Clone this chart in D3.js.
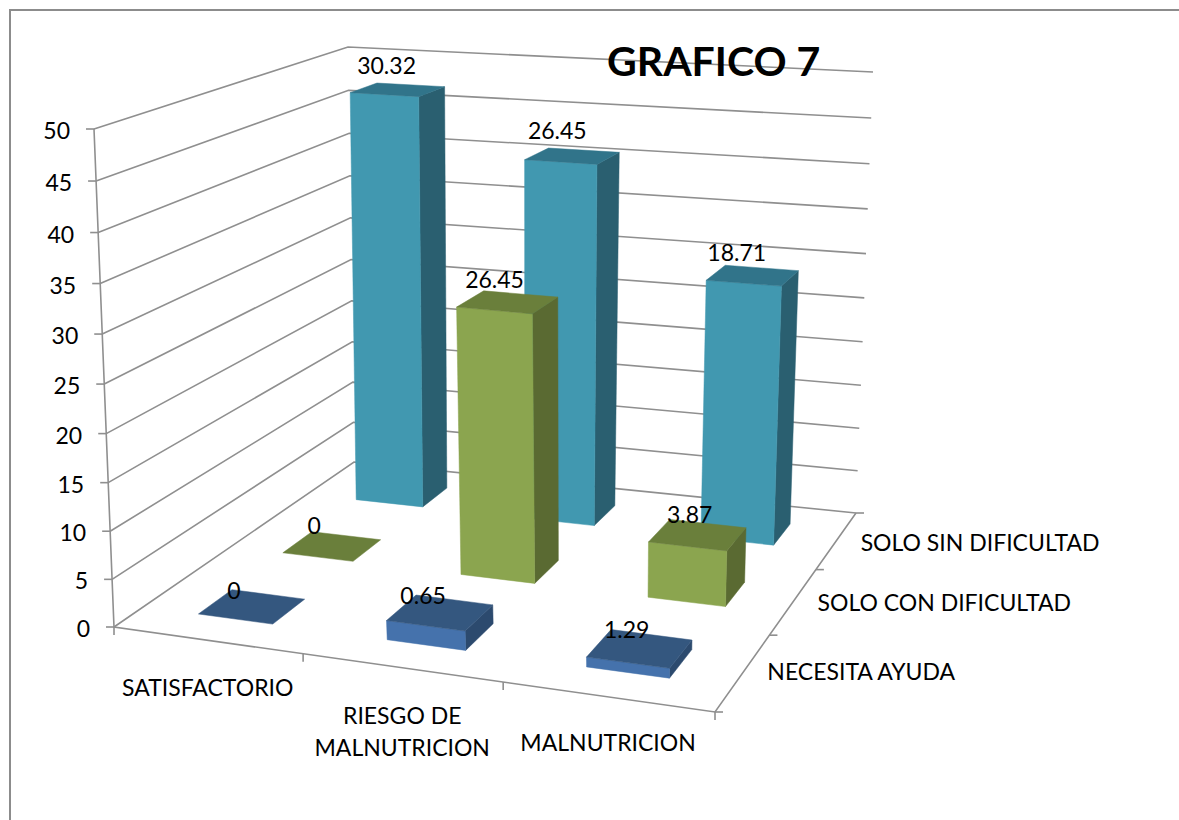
<!DOCTYPE html>
<html>
<head>
<meta charset="utf-8">
<script src="https://cdn.jsdelivr.net/npm/d3@7"></script>
<style>
  html, body { margin: 0; padding: 0; background: #fff; }
  svg { display: block; }
  text { font-family: Lato, "Open Sans", sans-serif; fill: #000; }
</style>
</head>
<body>
<script>
// data
const categories = ["SATISFACTORIO", "RIESGO DE|MALNUTRICION", "MALNUTRICION"]
const seriesNames = ["NECESITA AYUDA", "SOLO CON DIFICULTAD", "SOLO SIN DIFICULTAD"]
const yTicks = [0, 5, 10, 15, 20, 25, 30, 35, 40, 45, 50]

// bar heights as measured against the axis (the printed labels differ from them)
const necesitaHeights = [0, 2, 1]
const conDificultadHeights = [0, 29, 6]
const sinDificultadHeights = [47, 40.8, 29]

const necesitaLabels = ["0", "0.65", "1.29"]
const conDificultadLabels = ["0", "26.45", "3.87"]
const sinDificultadLabels = ["30.32", "26.45", "18.71"]

const width = 1179, height = 820

// corners of the 3d box on screen: front left, front right, back right, back left
const floorQuad = [[114, 627], [715, 712], [856, 513], [354, 462]]
const topQuad = [[94, 129], [728, 183], [873, 72], [348, 47]]

function quadMap(q) {
  const [[x0, y0], [x1, y1], [x2, y2], [x3, y3]] = q
  const dx1 = x1 - x2, dx2 = x3 - x2, sx = x0 - x1 + x2 - x3
  const dy1 = y1 - y2, dy2 = y3 - y2, sy = y0 - y1 + y2 - y3
  const den = dx1 * dy2 - dx2 * dy1
  const g = (sx * dy2 - dx2 * sy) / den
  const h = (dx1 * sy - sx * dy1) / den
  return (u, v) => {
    const w = g * u + h * v + 1
    return [
      ((x1 - x0 + g * x1) * u + (x3 - x0 + h * x3) * v + x0) / w,
      ((y1 - y0 + g * y1) * u + (y3 - y0 + h * y3) * v + y0) / w
    ]
  }
}
const floorAt = quadMap(floorQuad)
const topAt = quadMap(topQuad)

// scales
const x = d3.scaleBand().domain(categories).range([0, 1]).paddingInner(0.6).paddingOuter(0.3)
const z = d3.scaleBand().domain(seriesNames).range([0, 1]).paddingInner(0.62).paddingOuter(0.31)
const y = d3.scaleLinear().domain([0, 50]).range([0, 1])

// slight foreshortening of the vertical axis
const persp = 1.05
// the rows are spaced more evenly than the plain quad mapping gives
const warp = (u, v, k) => u + (0.034 + k * v) * u * (1 - u)
function project(u, v, value) {
  const h = y(value)
  const t = h / (persp - (persp - 1) * h)
  const a = floorAt(warp(u, v, 0), v), b = topAt(warp(u, v, 0.08), v)
  return [a[0] + (b[0] - a[0]) * t, a[1] + (b[1] - a[1]) * t]
}

const svg = d3.select("body").append("svg")
  .attr("width", width)
  .attr("height", height)

const line = d3.line()
const gridColor = "#8f8f8f"

// chart border
svg.append("path")
  .attr("d", line([[10, height], [10, 10], [width, 10]]))
  .attr("fill", "none")
  .attr("stroke", "#8c8c8c")
  .attr("stroke-width", 2)

// walls
svg.append("g").selectAll("path")
  .data(yTicks)
  .join("path")
  .attr("d", d => line([project(0, 0, d), project(0, 1, d), project(1, 1, d)]))
  .attr("fill", "none")
  .attr("stroke", gridColor)
  .attr("stroke-width", 1.6)

// axis lines and tick marks
const axisG = svg.append("g").attr("fill", "none").attr("stroke", gridColor).attr("stroke-width", 1.6)
axisG.append("path").attr("d", line([project(0, 0, 50), project(0, 0, 0), project(1, 0, 0), project(1, 1, 0)]))
yTicks.forEach(d => {
  const p = project(0, 0, d)
  axisG.append("path").attr("d", line([[p[0] - 8, p[1]], p]))
})
d3.range(4).forEach(i => {
  const p = project(i / 3, 0, 0)
  axisG.append("path").attr("d", line([p, [p[0], p[1] + 8]]))
  const q = project(1, i / 3, 0)
  axisG.append("path").attr("d", line([q, [q[0] + 8, q[1]]]))
})

// y tick labels
svg.append("g").selectAll("text")
  .data(yTicks)
  .join("text")
  .attr("x", d => project(0, 0, d)[0] - 24)
  .attr("y", d => project(0, 0, d)[1] + 10)
  .attr("text-anchor", "end")
  .attr("font-size", 23)
  .text(d => d)

// bars, back row first
const rows = [
  { name: seriesNames[2], values: sinDificultadHeights, labels: sinDificultadLabels, front: "#4198b0", top: "#31748a", side: "#2a5f70", labelDx: [-11, -15, -16], labelDy: [-16, -17, -14] },
  { name: seriesNames[1], values: conDificultadHeights, labels: conDificultadLabels, front: "#8ba54f", top: "#6a7f3b", side: "#5a6a32", labelDx: [-18, -13, -8], labelDy: [-12, -14, -12] },
  { name: seriesNames[0], values: necesitaHeights, labels: necesitaLabels, front: "#4572ac", top: "#34577f", side: "#2c4a6e", labelDx: [-18, -17, -13], labelDy: [-8, -9, -11] }
]

rows.forEach(row => {
  const v0 = z(row.name), v1 = v0 + z.bandwidth()
  const g = svg.append("g")
  categories.forEach((c, i) => {
    const u0 = x(c), u1 = u0 + x.bandwidth(), val = row.values[i]
    if (val > 0) {
      g.append("path").attr("fill", row.side).attr("stroke", row.side).attr("stroke-width", 0.5)
        .attr("d", line([project(u1, v0, 0), project(u1, v1, 0), project(u1, v1, val), project(u1, v0, val)]) + "Z")
      g.append("path").attr("fill", row.front).attr("stroke", row.front).attr("stroke-width", 0.5)
        .attr("d", line([project(u0, v0, 0), project(u1, v0, 0), project(u1, v0, val), project(u0, v0, val)]) + "Z")
    }
    g.append("path").attr("fill", row.top).attr("stroke", row.top).attr("stroke-width", 0.5)
      .attr("d", line([project(u0, v0, val), project(u1, v0, val), project(u1, v1, val), project(u0, v1, val)]) + "Z")
  })
})

// value labels sit above everything
rows.forEach(row => {
  const vc = z(row.name) + z.bandwidth() / 2
  categories.forEach((c, i) => {
    const p = project(x(c) + x.bandwidth() / 2, vc, row.values[i])
    svg.append("text")
      .attr("x", p[0] + row.labelDx[i])
      .attr("y", p[1] + row.labelDy[i])
      .attr("text-anchor", "middle")
      .attr("font-size", 23)
      .text(row.labels[i])
  })
})

// category labels under the front edge
const categoryDy = [56, 56, 54]
categories.forEach((c, i) => {
  const p = project((i + 0.5) / 3, 0, 0)
  const parts = c.split("|")
  const t = svg.append("text")
    .attr("text-anchor", "middle")
    .attr("font-size", 23)
  parts.forEach((s, k) => {
    t.append("tspan")
      .attr("x", p[0] + 0.5)
      .attr("y", p[1] + categoryDy[i] + k * 32)
      .text(s)
  })
})

// series labels to the right of the depth edge
seriesNames.forEach((s, i) => {
  const p = project(1, (i + 0.5) / 3, 0)
  svg.append("text")
    .attr("x", p[0] + 24)
    .attr("y", p[1] + 8 + i * 1.5)
    .attr("font-size", 23)
    .text(s)
})

svg.append("text")
  .attr("x", 607)
  .attr("y", 76)
  .attr("font-size", 41)
  .attr("font-weight", "bold")
  .text("GRAFICO 7")
</script>
</body>
</html>
